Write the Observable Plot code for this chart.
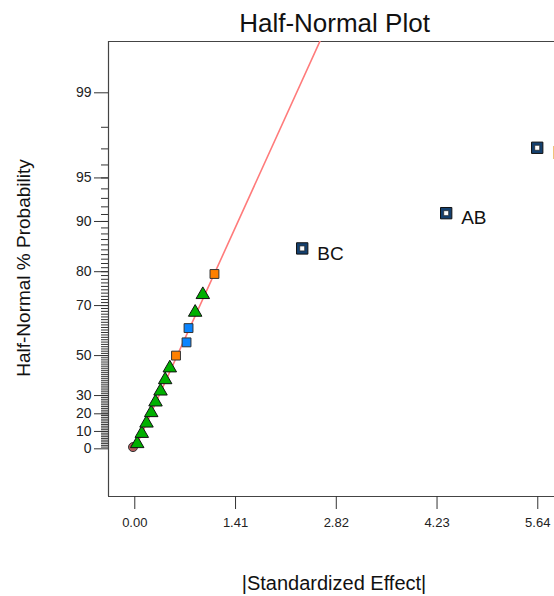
<!DOCTYPE html>
<html>
<head>
<meta charset="utf-8">
<script src="https://cdn.jsdelivr.net/npm/d3@7"></script>
<script src="https://cdn.jsdelivr.net/npm/@observablehq/plot@0.6"></script>
<style>
  html, body { margin: 0; padding: 0; background: #fff; overflow: hidden; }
  #chart svg { display: block; }
  #chart svg g[aria-label="y-axis tick label"] text { font-size: 14px; }
  #chart svg g[aria-label="x-axis tick label"] text { font-size: 13px; }
</style>
</head>
<body>
<div id="chart"></div>
<script>
// Half-normal plot of standardized effects.

// Error-term effects (green triangles)
const triEffect = [0.034, 0.098, 0.164, 0.230, 0.290, 0.360, 0.425, 0.490, 0.845, 0.952];
const triProb   = [2.94, 8.82, 14.71, 20.59, 26.47, 32.35, 38.24, 44.12, 67.65, 73.53];

// Orange and blue squares
const orangeEffect = [0.577, 1.115];
const orangeProb   = [50.00, 79.41];
const blueEffect   = [0.724, 0.752];
const blueProb     = [55.88, 61.76];

// Selected model terms
const termLabels = ["BC", "AB", "B"];
const termEffect = [2.343, 4.358, 5.632];
const termProb   = [85.29, 91.18, 97.06];

// Point at the origin
const originEffect = [-0.025];
const originProb   = [1.0];

// Axis ticks
const xTicks = [0.00, 1.41, 2.82, 4.23, 5.64];
const yMajorTicks = [0, 10, 20, 30, 50, 70, 80, 90, 95, 99];
const yMinorTicks = d3.range(1, 99);

// Slope of the reference line through the origin (quantile per |effect|)
const fitSlope = 1.138;

// Inverse standard normal CDF (Acklam's rational approximation)
function probit(p) {
  const a = [-3.969683028665376e+01, 2.209460984245205e+02, -2.759285104469687e+02,
             1.383577518672690e+02, -3.066479806614716e+01, 2.506628277459239e+00];
  const b = [-5.447609879822406e+01, 1.615858368580409e+02, -1.556989798598866e+02,
             6.680131188771972e+01, -1.328068155288572e+01];
  const c = [-7.784894002430293e-03, -3.223964580411365e-01, -2.400758277161838e+00,
             -2.549732539343734e+00, 4.374664141464968e+00, 2.938163982698783e+00];
  const d = [7.784695709041462e-03, 3.224671290700398e-01, 2.445134137142996e+00,
             3.754408661907416e+00];
  const plow = 0.02425, phigh = 1 - plow;
  let q, r;
  if (p < plow) {
    q = Math.sqrt(-2 * Math.log(p));
    return (((((c[0]*q + c[1])*q + c[2])*q + c[3])*q + c[4])*q + c[5]) /
           ((((d[0]*q + d[1])*q + d[2])*q + d[3])*q + 1);
  }
  if (p <= phigh) {
    q = p - 0.5; r = q * q;
    return (((((a[0]*r + a[1])*r + a[2])*r + a[3])*r + a[4])*r + a[5]) * q /
           (((((b[0]*r + b[1])*r + b[2])*r + b[3])*r + b[4])*r + 1);
  }
  q = Math.sqrt(-2 * Math.log(1 - p));
  return -(((((c[0]*q + c[1])*q + c[2])*q + c[3])*q + c[4])*q + c[5]) /
          ((((d[0]*q + d[1])*q + d[2])*q + d[3])*q + 1);
}
// Half-normal quantile for a percent probability
const hn = pct => pct <= 0 ? 0 : probit(0.5 + pct / 200);

const pts = (xs, ps, labels) => xs.map((x, i) => ({x, y: hn(ps[i]), label: labels ? labels[i] : null}));
const tri = pts(triEffect, triProb);
const orange = pts(orangeEffect, orangeProb);
const blue = pts(blueEffect, blueProb);
const terms = pts(termEffect, termProb, termLabels);
const origin = pts(originEffect, originProb);
const fit = [0, 3].map(x => ({x, y: fitSlope * x}));

const majorQ = yMajorTicks.map(hn);
const majorLabel = new Map(majorQ.map((q, i) => [q, String(yMajorTicks[i])]));
const minorQ = yMinorTicks.map(hn);

const xDomain = [-0.368, 5.874];
const yDomain = [-0.345, 2.947];
const font = "'Liberation Sans', Arial, Helvetica, sans-serif";

const svg = Plot.plot({
  width: 554,
  height: 596,
  marginTop: 41,
  marginLeft: 108,
  marginRight: 0,
  marginBottom: 100,
  style: {fontFamily: font, fontSize: "13.5px", background: "#fff", color: "#222"},
  x: {domain: xDomain},
  y: {domain: yDomain},
  marks: [
    // frame: top, bottom and left edges
    Plot.ruleY([yDomain[1]], {stroke: "#444", strokeWidth: 1.2}),
    Plot.ruleY([yDomain[0]], {stroke: "#444", strokeWidth: 1.2}),
    Plot.ruleX([xDomain[0]], {stroke: "#444", strokeWidth: 1.2}),
    // axes
    Plot.axisY({ticks: minorQ, tickSize: 7, tickFormat: () => "", label: null, stroke: "#333"}),
    Plot.axisY({ticks: majorQ, tickSize: 14, tickPadding: 3, tickFormat: q => majorLabel.get(q),
                label: null, fontSize: 14, stroke: "#333", fill: "#222"}),
    Plot.axisX({ticks: xTicks, tickSize: 13, tickPadding: 8, tickFormat: d => d.toFixed(2),
                label: null, fontSize: 13, stroke: "#333", fill: "#222"}),
    // reference line
    Plot.line(fit, {x: "x", y: "y", stroke: "#ff7b7b", strokeWidth: 1.6, clip: true}),
    // points
    Plot.dot(origin, {x: "x", y: "y", r: 4.5, fill: "#b05a5a", stroke: "#333", strokeWidth: 1}),
    Plot.dot(tri, {x: "x", y: "y", symbol: "triangle", r: 5, fill: "#00b000", stroke: "#111", strokeWidth: 1}),
    Plot.dot(orange, {x: "x", y: "y", symbol: "square", r: 5, fill: "#ff8000", stroke: "#333", strokeWidth: 1}),
    Plot.dot(blue, {x: "x", y: "y", symbol: "square", r: 5, fill: "#0a84ff", stroke: "#333", strokeWidth: 1}),
    Plot.dot(terms, {x: "x", y: "y", symbol: "square", r: 6.4, fill: "#14406f", stroke: "#111", strokeWidth: 1}),
    Plot.dot(terms, {x: "x", y: "y", symbol: "square", r: 2.8, fill: "#fff", stroke: "#222", strokeWidth: 0.7}),
    Plot.text(terms, {x: "x", y: "y", text: "label", textAnchor: "start", dx: 15, dy: 5,
                      fontSize: 19, fill: "#111"})
  ]
});

const s = d3.select(svg);
s.append("text")
  .attr("x", 334.5).attr("y", 32)
  .attr("text-anchor", "middle")
  .attr("font-family", font).attr("font-size", 26).attr("fill", "#111")
  .text("Half-Normal Plot");
s.append("text")
  .attr("x", 334).attr("y", 590)
  .attr("text-anchor", "middle")
  .attr("font-family", font).attr("font-size", 20).attr("fill", "#111")
  .text("|Standardized Effect|");
s.append("text")
  .attr("transform", "translate(30,268) rotate(-90)")
  .attr("text-anchor", "middle")
  .attr("font-family", font).attr("font-size", 19).attr("fill", "#111")
  .text("Half-Normal % Probability");

document.getElementById("chart").appendChild(svg);
</script>
</body>
</html>
